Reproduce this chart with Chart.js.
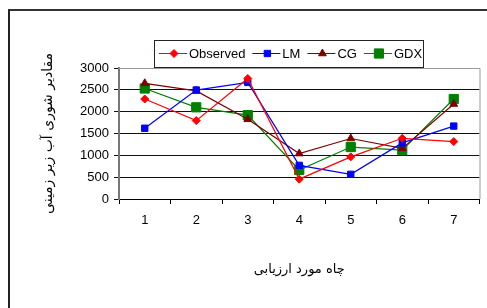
<!DOCTYPE html>
<html>
<head>
<meta charset="utf-8">
<script src="https://cdn.jsdelivr.net/npm/chart.js@4"></script>
<style>
  html, body { margin: 0; padding: 0; background: #fff; }
  #wrap { position: relative; width: 487px; height: 308px; }
  #frame { position: absolute; left: 8px; top: 9px; right: 0; bottom: -5px;
           border-left: 2px solid #222; border-top: 2px solid #333; }
  canvas { position: absolute; left: 0; top: 0; }
</style>
</head>
<body>
<div id="wrap">
  <div id="frame"></div>
  <canvas id="c" width="487" height="308"></canvas>
</div>
<script>
// داده‌ها
const wells = ['1', '2', '3', '4', '5', '6', '7'];
const observed = [2290, 1795, 2760, 455, 965, 1390, 1315];
const lm = [1620, 2495, 2670, 770, 565, 1285, 1670];
const cg = [2650, 2475, 1825, 1040, 1385, 1160, 2175];
const gdx = [2530, 2100, 1920, 665, 1190, 1120, 2290];
const yTicks = [0, 500, 1000, 1500, 2000, 2500, 3000];

const yTitle = 'مقادیر شوری آب زیر زمینی';
const xTitle = 'چاه مورد ارزیابی';

// legend box drawn by hand (with frame), like the excel one
const boxLegend = {
  id: 'boxLegend',
  afterDraw(chart) {
    const ctx = chart.ctx;
    ctx.save();
    ctx.fillStyle = '#fff';
    ctx.fillRect(154.5, 40.5, 269, 27);
    ctx.strokeStyle = '#222';
    ctx.lineWidth = 1;
    ctx.strokeRect(154.5, 40.5, 269, 27);
    ctx.font = '13px "Liberation Sans", Arial, sans-serif';
    ctx.textBaseline = 'middle';
    let x = 159;
    const y = 53;
    chart.data.datasets.forEach(ds => {
      ctx.strokeStyle = ds.borderColor;
      ctx.lineWidth = 1;
      ctx.beginPath();
      ctx.moveTo(x, y + 0.5);
      ctx.lineTo(x + 28, y + 0.5);
      ctx.stroke();
      ctx.fillStyle = ds.pointBackgroundColor;
      ctx.strokeStyle = ds.pointBorderColor;
      Chart.helpers.drawPoint(ctx, {
        pointStyle: ds.pointStyle, radius: ds.pointRadius, borderWidth: 1, rotation: 0
      }, x + 15, y + 0.5);
      ctx.fillStyle = '#000';
      ctx.fillText(ds.label, x + 30, y + 1);
      x += 30 + ctx.measureText(ds.label).width + 7;
    });
    ctx.restore();
  }
};

// gray plot-area frame
const plotFrame = {
  id: 'plotFrame',
  beforeDatasetsDraw(chart) {
    const a = chart.chartArea;
    const ctx = chart.ctx;
    ctx.save();
    ctx.strokeStyle = '#9a9a9a';
    ctx.lineWidth = 1;
    ctx.beginPath();
    ctx.moveTo(a.left, a.top + 0.5);
    ctx.lineTo(a.right + 0.5, a.top + 0.5);
    ctx.lineTo(a.right + 0.5, a.bottom);
    ctx.stroke();
    ctx.restore();
  }
};

new Chart(document.getElementById('c'), {
  type: 'line',
  data: {
    labels: wells,
    datasets: [
      { label: 'Observed', data: observed, borderColor: '#ff0000', pointBackgroundColor: '#ff0000',
        pointBorderColor: '#ff0000', pointStyle: 'rectRot', pointRadius: 4 },
      { label: 'LM', data: lm, borderColor: '#0000ff', pointBackgroundColor: '#0000ff',
        pointBorderColor: '#0000ff', pointStyle: 'rect', pointRadius: 4.5 },
      { label: 'CG', data: cg, borderColor: '#800000', pointBackgroundColor: '#800000',
        pointBorderColor: '#800000', pointStyle: 'triangle', pointRadius: 4.5 },
      { label: 'GDX', data: gdx, borderColor: '#008000', pointBackgroundColor: '#008000',
        pointBorderColor: '#008000', pointStyle: 'rect', pointRadius: 6.5 }
    ].map(d => Object.assign({ borderWidth: 1.2, pointBorderWidth: 1, tension: 0, fill: false }, d))
  },
  options: {
    responsive: false,
    animation: false,
    layout: { padding: { left: 40, top: 68, right: 4, bottom: 31 } },
    plugins: { legend: { display: false }, tooltip: { enabled: false } },
    scales: {
      x: {
        offset: true,
        afterFit: s => { s.height = 78; },
        grid: { offset: true, drawOnChartArea: false, color: '#000', tickLength: 5 },
        border: { color: '#000', width: 1 },
        ticks: { color: '#000', padding: 9, font: { family: '"Liberation Sans", Arial, sans-serif', size: 13 } },
        title: { display: true, text: xTitle, color: '#000', padding: 0,
                 font: { family: '"DejaVu Sans", sans-serif', size: 13 } }
      },
      y: {
        min: 0, max: 3000,
        afterFit: s => { s.width = 79; },
        afterBuildTicks: s => { s.ticks = yTicks.map(v => ({ value: v })); },
        grid: { color: '#111', tickLength: 5, lineWidth: 1 },
        border: { color: '#777', width: 2 },
        ticks: { color: '#000', padding: 5, callback: v => String(v),
                 font: { family: '"Liberation Sans", Arial, sans-serif', size: 13 } },
        title: { display: true, text: yTitle, color: '#000', padding: 0,
                 font: { family: '"DejaVu Sans", sans-serif', size: 14 } }
      }
    }
  },
  plugins: [plotFrame, boxLegend]
});
</script>
</body>
</html>
